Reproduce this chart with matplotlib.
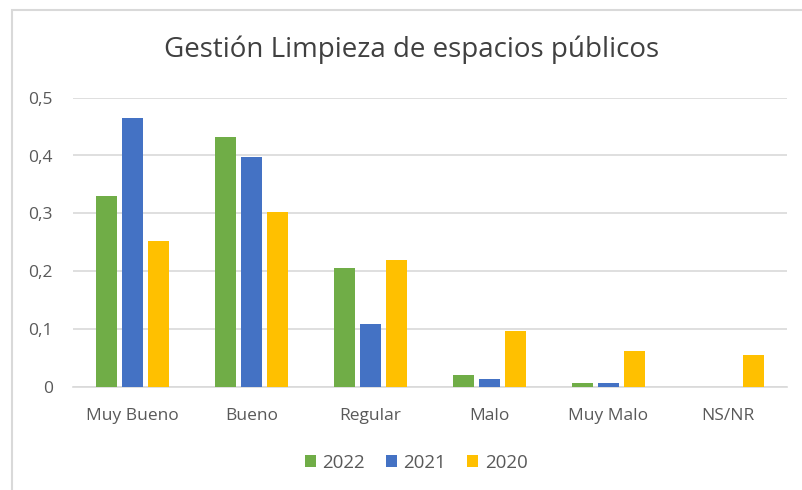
import matplotlib.pyplot as plt
import numpy as np
from matplotlib.patches import Rectangle

categorias = ['Muy Bueno', 'Bueno', 'Regular', 'Malo', 'Muy Malo', 'NS/NR']
anios = ['2022', '2021', '2020']
valores_2022 = [0.330, 0.432, 0.205, 0.020, 0.006, 0.0]
valores_2021 = [0.465, 0.397, 0.108, 0.014, 0.006, 0.0]
valores_2020 = [0.252, 0.302, 0.220, 0.097, 0.062, 0.055]
colores = ['#70AD47', '#4472C4', '#FFC000']

plt.rcParams['font.family'] = ['Open Sans', 'DejaVu Sans']
texto = '#595959'

fig = plt.figure(figsize=(8.02, 4.90), dpi=100)
ax = fig.add_axes([73 / 802, 1 - 386.7 / 490, 714 / 802, 289 / 490])

# borde del grafico (recortado a la derecha y abajo)
fig.patches.append(Rectangle((12 / 802, -0.1), 1.2, 1 - 10 / 490 + 0.1,
                             transform=fig.transFigure, fill=False,
                             edgecolor='#D9D9D9', linewidth=1.5))

x = np.arange(len(categorias))
ancho = 0.176
paso = 0.222
series = [valores_2022, valores_2021, valores_2020]
for i, (serie, anio) in enumerate(zip(series, anios)):
    ax.bar(x + (i - 1) * paso, serie, ancho, color=colores[i], label=anio, zorder=3)

ax.set_xlim(-0.5, len(categorias) - 0.5)
ax.set_ylim(0, 0.5)
ax.set_yticks([0, 0.1, 0.2, 0.3, 0.4, 0.5])
ax.set_yticklabels(['0', '0,1', '0,2', '0,3', '0,4', '0,5'])
ax.set_xticks(x)
ax.set_xticklabels(categorias)
ax.grid(axis='y', color='#D9D9D9', linewidth=1.2, zorder=0)
ax.tick_params(length=0, labelsize=12.5, colors=texto)
ax.tick_params(axis='y', pad=14.5)
ax.tick_params(axis='x', pad=15)
for lado in ['top', 'right', 'left']:
    ax.spines[lado].set_visible(False)
ax.spines['bottom'].set_color('#D9D9D9')
ax.spines['bottom'].set_linewidth(1.2)

fig.text(412 / 802, 1 - 50 / 490, 'Gestión Limpieza de espacios públicos',
         ha='center', va='center', fontsize=20, color='#404040')

fig.legend(loc='center', bbox_to_anchor=(416 / 802, 1 - 463 / 490), ncol=3,
           frameon=False, fontsize=13.5, handlelength=0.6, handleheight=0.6,
           handletextpad=0.35, columnspacing=1.1, labelcolor=texto)

fig.savefig('out.png', dpi=100)
